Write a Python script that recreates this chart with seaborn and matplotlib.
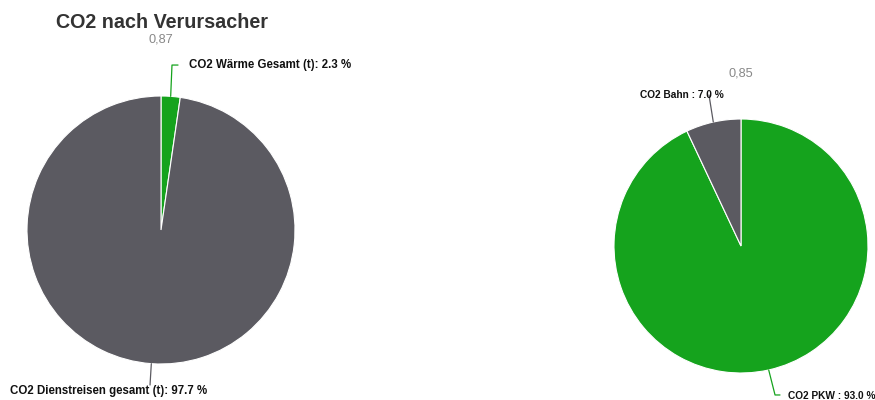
import numpy as np
import matplotlib
matplotlib.use("Agg")
import matplotlib.pyplot as plt
import seaborn as sns

sns.set_theme(style="white")
plt.rcParams['font.family'] = ['Liberation Sans', 'DejaVu Sans']

title = "CO2 nach Verursacher"

left_sub = "0,87"
left_labels = ["CO2 Wärme Gesamt (t)", "CO2 Dienstreisen gesamt (t)"]
left_values = [2.3, 97.7]

right_sub = "0,85"
right_labels = ["CO2 PKW ", "CO2 Bahn "]
right_values = [93.0, 7.0]

GREEN = "#15a31d"
GRAY = "#5b5a61"
colors = [GREEN, GRAY]

W, H = 875, 400
fig = plt.figure(figsize=(W / 100, H / 100), dpi=100)
fig.patch.set_facecolor("white")


def make_ax(cx, cy, r):
    return fig.add_axes([(cx - r) / W, (H - cy - r) / H, 2 * r / W, 2 * r / H])


def draw_pie(ax, values, labels, label_specs, fs):
    wedges, _ = ax.pie(values, colors=colors, startangle=90, counterclock=False,
                       radius=1.0, wedgeprops=dict(edgecolor="white", linewidth=0.8))
    ax.set_xlim(-1, 1)
    ax.set_ylim(-1, 1)
    ax.set_aspect("auto")
    ax.axis("off")
    for w, v, lab, spec in zip(wedges, values, labels, label_specs):
        ang = np.deg2rad((w.theta1 + w.theta2) / 2)
        x0, y0 = np.cos(ang), np.sin(ang)
        pts = [(x0, y0)] + spec["path"]
        ax.plot([p[0] for p in pts], [p[1] for p in pts], color=spec["lc"],
                lw=0.9, clip_on=False)
        ax.text(spec["tx"], spec["ty"], f"{lab}: {v:.1f} %", ha=spec["ha"],
                va="center", fontsize=fs, fontweight="bold", color="#111111",
                clip_on=False)


# Left pie
axL = make_ax(161, 230, 134)
draw_pie(axL, left_values, left_labels, [
    dict(path=[(0.082, 1.231), (0.127, 1.231)], tx=0.209, ty=1.231, ha="left", lc=GREEN),
    dict(path=[(-0.082, -1.157)], tx=-1.127, ty=-1.20, ha="left", lc=GRAY),
], fs=8.3)

# Right pie
axR = make_ax(741, 246, 127)
draw_pie(axR, right_values, right_labels, [
    dict(path=[(0.268, -1.173), (0.307, -1.173)], tx=0.37, ty=-1.18, ha="left", lc=GREEN),
    dict(path=[(-0.252, 1.189)], tx=-0.465, ty=1.189, ha="center", lc=GRAY),
], fs=7.3)

fig.text(56 / W, 1 - 22 / H, title, fontsize=14.2, fontweight="bold",
         color="#333333", ha="left", va="center")
fig.text(161 / W, 1 - 40 / H, left_sub, fontsize=9.2, color="#888888",
         ha="center", va="center")
fig.text(741 / W, 1 - 73 / H, right_sub, fontsize=9.2, color="#888888",
         ha="center", va="center")

fig.savefig("out.png", dpi=100, facecolor="white")
